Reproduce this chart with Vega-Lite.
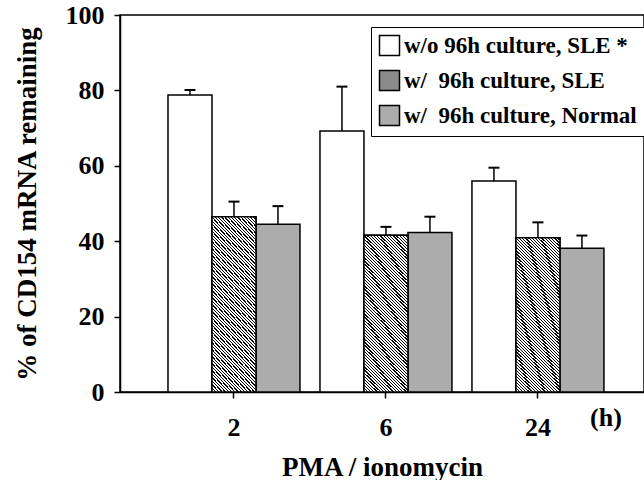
{
  "$schema": "https://vega.github.io/schema/vega-lite/v6.json",
  "width": 524,
  "height": 377,
  "autosize": "none",
  "padding": {"left": 120, "top": 15, "right": 0, "bottom": 88},
  "background": "white",
  "config": {
    "view": {"stroke": "black", "strokeWidth": 1.5},
    "font": "Liberation Serif",
    "axis": {
      "domainColor": "black", "domainWidth": 1.5, "tickColor": "black", "tickWidth": 1.5, "tickSize": 6,
      "grid": false, "labelFont": "Liberation Serif", "labelFontWeight": "bold", "labelColor": "black",
      "titleFont": "Liberation Serif", "titleFontWeight": "bold", "titleColor": "black"
    },
    "legend": {"strokeColor": "black"}
  },
  "datasets": {
    "bars": [
      {"time": "2", "series": "w/o 96h culture, SLE *", "value": 78.8, "upper": 80.1},
      {"time": "2", "series": "w/\u00a0 96h culture, SLE", "value": 46.5, "upper": 50.5},
      {"time": "2", "series": "w/\u00a0 96h culture, Normal", "value": 44.5, "upper": 49.3},
      {"time": "6", "series": "w/o 96h culture, SLE *", "value": 69.2, "upper": 81.0},
      {"time": "6", "series": "w/\u00a0 96h culture, SLE", "value": 41.6, "upper": 43.8},
      {"time": "6", "series": "w/\u00a0 96h culture, Normal", "value": 42.3, "upper": 46.5},
      {"time": "24", "series": "w/o 96h culture, SLE *", "value": 56.0, "upper": 59.5},
      {"time": "24", "series": "w/\u00a0 96h culture, SLE", "value": 40.9, "upper": 45.0},
      {"time": "24", "series": "w/\u00a0 96h culture, Normal", "value": 38.1, "upper": 41.5}
    ]
  },
  "layer": [
    {
      "data": {"name": "bars"},
      "mark": {"type": "bar", "stroke": "black", "strokeWidth": 1.5},
      "encoding": {
        "x": {
          "field": "time", "type": "nominal",
          "scale": {"domain": ["2", "6", "24"], "paddingInner": 0.1316, "paddingOuter": 0.2897, "align": 0.545},
          "axis": {"title": "PMA / ionomycin", "labelAngle": 0, "labelFontSize": 26, "labelPadding": 16, "titleFontSize": 27, "titlePadding": 14}
        },
        "xOffset": {
          "field": "series", "type": "nominal",
          "scale": {"domain": ["w/o 96h culture, SLE *", "w/\u00a0 96h culture, SLE", "w/\u00a0 96h culture, Normal"], "paddingInner": 0, "paddingOuter": 0}
        },
        "y": {
          "field": "value", "type": "quantitative",
          "scale": {"domain": [0, 100]},
          "axis": {
            "title": "% of CD154 mRNA remaining",
            "values": [0, 10, 20, 30, 40, 50, 60, 70, 80, 90, 100],
            "labelExpr": "datum.value % 20 === 0 ? datum.label : ''",
            "labelFontSize": 26, "labelPadding": 10, "titleFontSize": 27, "titlePadding": 24
          }
        },
        "fill": {
          "field": "series", "type": "nominal",
          "scale": {
            "domain": ["w/o 96h culture, SLE *", "w/\u00a0 96h culture, SLE", "w/\u00a0 96h culture, Normal"],
            "range": ["#ffffff", "#8a8a8a", "#acacac"]
          },
          "legend": {
            "title": null, "orient": "none", "legendX": 251, "legendY": 12, "direction": "vertical",
            "fillColor": "white", "padding": 7,
            "symbolType": "square", "symbolSize": 400, "symbolStrokeColor": "black", "symbolOpacity": 1,
            "labelFont": "Liberation Serif", "labelFontWeight": "bold", "labelFontSize": 23, "labelColor": "black",
            "labelOffset": 3, "labelLimit": 0, "rowPadding": 8
          }
        }
      }
    },
    {
      "data": {"name": "bars"},
      "transform": [{"filter": "datum.series === 'w/\u00a0 96h culture, SLE'"}],
      "mark": {"type": "bar", "stroke": "black", "strokeWidth": 1.5,
        "fill": {"gradient": "linear", "x1": 0, "y1": 1, "x2": 0.3216, "y2": -0.1842, "stops": [
{"offset":0,"color":"#000"},{"offset":0.00625,"color":"#000"},{"offset":0.00625,"color":"#fff"},{"offset":0.01563,"color":"#fff"},
{"offset":0.01563,"color":"#000"},{"offset":0.02188,"color":"#000"},{"offset":0.02188,"color":"#fff"},{"offset":0.03125,"color":"#fff"},
{"offset":0.03125,"color":"#000"},{"offset":0.0375,"color":"#000"},{"offset":0.0375,"color":"#fff"},{"offset":0.04688,"color":"#fff"},
{"offset":0.04688,"color":"#000"},{"offset":0.05313,"color":"#000"},{"offset":0.05313,"color":"#fff"},{"offset":0.0625,"color":"#fff"},
{"offset":0.0625,"color":"#000"},{"offset":0.06875,"color":"#000"},{"offset":0.06875,"color":"#fff"},{"offset":0.07813,"color":"#fff"},
{"offset":0.07813,"color":"#000"},{"offset":0.08438,"color":"#000"},{"offset":0.08438,"color":"#fff"},{"offset":0.09375,"color":"#fff"},
{"offset":0.09375,"color":"#000"},{"offset":0.1,"color":"#000"},{"offset":0.1,"color":"#fff"},{"offset":0.10938,"color":"#fff"},
{"offset":0.10938,"color":"#000"},{"offset":0.11563,"color":"#000"},{"offset":0.11563,"color":"#fff"},{"offset":0.125,"color":"#fff"},
{"offset":0.125,"color":"#000"},{"offset":0.13125,"color":"#000"},{"offset":0.13125,"color":"#fff"},{"offset":0.14063,"color":"#fff"},
{"offset":0.14063,"color":"#000"},{"offset":0.14688,"color":"#000"},{"offset":0.14688,"color":"#fff"},{"offset":0.15625,"color":"#fff"},
{"offset":0.15625,"color":"#000"},{"offset":0.1625,"color":"#000"},{"offset":0.1625,"color":"#fff"},{"offset":0.17188,"color":"#fff"},
{"offset":0.17188,"color":"#000"},{"offset":0.17813,"color":"#000"},{"offset":0.17813,"color":"#fff"},{"offset":0.1875,"color":"#fff"},
{"offset":0.1875,"color":"#000"},{"offset":0.19375,"color":"#000"},{"offset":0.19375,"color":"#fff"},{"offset":0.20313,"color":"#fff"},
{"offset":0.20313,"color":"#000"},{"offset":0.20938,"color":"#000"},{"offset":0.20938,"color":"#fff"},{"offset":0.21875,"color":"#fff"},
{"offset":0.21875,"color":"#000"},{"offset":0.225,"color":"#000"},{"offset":0.225,"color":"#fff"},{"offset":0.23438,"color":"#fff"},
{"offset":0.23438,"color":"#000"},{"offset":0.24063,"color":"#000"},{"offset":0.24063,"color":"#fff"},{"offset":0.25,"color":"#fff"},
{"offset":0.25,"color":"#000"},{"offset":0.25625,"color":"#000"},{"offset":0.25625,"color":"#fff"},{"offset":0.26563,"color":"#fff"},
{"offset":0.26563,"color":"#000"},{"offset":0.27188,"color":"#000"},{"offset":0.27188,"color":"#fff"},{"offset":0.28125,"color":"#fff"},
{"offset":0.28125,"color":"#000"},{"offset":0.2875,"color":"#000"},{"offset":0.2875,"color":"#fff"},{"offset":0.29688,"color":"#fff"},
{"offset":0.29688,"color":"#000"},{"offset":0.30313,"color":"#000"},{"offset":0.30313,"color":"#fff"},{"offset":0.3125,"color":"#fff"},
{"offset":0.3125,"color":"#000"},{"offset":0.31875,"color":"#000"},{"offset":0.31875,"color":"#fff"},{"offset":0.32813,"color":"#fff"},
{"offset":0.32813,"color":"#000"},{"offset":0.33438,"color":"#000"},{"offset":0.33438,"color":"#fff"},{"offset":0.34375,"color":"#fff"},
{"offset":0.34375,"color":"#000"},{"offset":0.35,"color":"#000"},{"offset":0.35,"color":"#fff"},{"offset":0.35938,"color":"#fff"},
{"offset":0.35938,"color":"#000"},{"offset":0.36563,"color":"#000"},{"offset":0.36563,"color":"#fff"},{"offset":0.375,"color":"#fff"},
{"offset":0.375,"color":"#000"},{"offset":0.38125,"color":"#000"},{"offset":0.38125,"color":"#fff"},{"offset":0.39063,"color":"#fff"},
{"offset":0.39063,"color":"#000"},{"offset":0.39688,"color":"#000"},{"offset":0.39688,"color":"#fff"},{"offset":0.40625,"color":"#fff"},
{"offset":0.40625,"color":"#000"},{"offset":0.4125,"color":"#000"},{"offset":0.4125,"color":"#fff"},{"offset":0.42188,"color":"#fff"},
{"offset":0.42188,"color":"#000"},{"offset":0.42813,"color":"#000"},{"offset":0.42813,"color":"#fff"},{"offset":0.4375,"color":"#fff"},
{"offset":0.4375,"color":"#000"},{"offset":0.44375,"color":"#000"},{"offset":0.44375,"color":"#fff"},{"offset":0.45313,"color":"#fff"},
{"offset":0.45313,"color":"#000"},{"offset":0.45938,"color":"#000"},{"offset":0.45938,"color":"#fff"},{"offset":0.46875,"color":"#fff"},
{"offset":0.46875,"color":"#000"},{"offset":0.475,"color":"#000"},{"offset":0.475,"color":"#fff"},{"offset":0.48438,"color":"#fff"},
{"offset":0.48438,"color":"#000"},{"offset":0.49063,"color":"#000"},{"offset":0.49063,"color":"#fff"},{"offset":0.5,"color":"#fff"},
{"offset":0.5,"color":"#000"},{"offset":0.50625,"color":"#000"},{"offset":0.50625,"color":"#fff"},{"offset":0.51563,"color":"#fff"},
{"offset":0.51563,"color":"#000"},{"offset":0.52188,"color":"#000"},{"offset":0.52188,"color":"#fff"},{"offset":0.53125,"color":"#fff"},
{"offset":0.53125,"color":"#000"},{"offset":0.5375,"color":"#000"},{"offset":0.5375,"color":"#fff"},{"offset":0.54688,"color":"#fff"},
{"offset":0.54688,"color":"#000"},{"offset":0.55313,"color":"#000"},{"offset":0.55313,"color":"#fff"},{"offset":0.5625,"color":"#fff"},
{"offset":0.5625,"color":"#000"},{"offset":0.56875,"color":"#000"},{"offset":0.56875,"color":"#fff"},{"offset":0.57813,"color":"#fff"},
{"offset":0.57813,"color":"#000"},{"offset":0.58438,"color":"#000"},{"offset":0.58438,"color":"#fff"},{"offset":0.59375,"color":"#fff"},
{"offset":0.59375,"color":"#000"},{"offset":0.6,"color":"#000"},{"offset":0.6,"color":"#fff"},{"offset":0.60938,"color":"#fff"},
{"offset":0.60938,"color":"#000"},{"offset":0.61563,"color":"#000"},{"offset":0.61563,"color":"#fff"},{"offset":0.625,"color":"#fff"},
{"offset":0.625,"color":"#000"},{"offset":0.63125,"color":"#000"},{"offset":0.63125,"color":"#fff"},{"offset":0.64063,"color":"#fff"},
{"offset":0.64063,"color":"#000"},{"offset":0.64688,"color":"#000"},{"offset":0.64688,"color":"#fff"},{"offset":0.65625,"color":"#fff"},
{"offset":0.65625,"color":"#000"},{"offset":0.6625,"color":"#000"},{"offset":0.6625,"color":"#fff"},{"offset":0.67188,"color":"#fff"},
{"offset":0.67188,"color":"#000"},{"offset":0.67813,"color":"#000"},{"offset":0.67813,"color":"#fff"},{"offset":0.6875,"color":"#fff"},
{"offset":0.6875,"color":"#000"},{"offset":0.69375,"color":"#000"},{"offset":0.69375,"color":"#fff"},{"offset":0.70313,"color":"#fff"},
{"offset":0.70313,"color":"#000"},{"offset":0.70938,"color":"#000"},{"offset":0.70938,"color":"#fff"},{"offset":0.71875,"color":"#fff"},
{"offset":0.71875,"color":"#000"},{"offset":0.725,"color":"#000"},{"offset":0.725,"color":"#fff"},{"offset":0.73438,"color":"#fff"},
{"offset":0.73438,"color":"#000"},{"offset":0.74063,"color":"#000"},{"offset":0.74063,"color":"#fff"},{"offset":0.75,"color":"#fff"},
{"offset":0.75,"color":"#000"},{"offset":0.75625,"color":"#000"},{"offset":0.75625,"color":"#fff"},{"offset":0.76563,"color":"#fff"},
{"offset":0.76563,"color":"#000"},{"offset":0.77188,"color":"#000"},{"offset":0.77188,"color":"#fff"},{"offset":0.78125,"color":"#fff"},
{"offset":0.78125,"color":"#000"},{"offset":0.7875,"color":"#000"},{"offset":0.7875,"color":"#fff"},{"offset":0.79688,"color":"#fff"},
{"offset":0.79688,"color":"#000"},{"offset":0.80313,"color":"#000"},{"offset":0.80313,"color":"#fff"},{"offset":0.8125,"color":"#fff"},
{"offset":0.8125,"color":"#000"},{"offset":0.81875,"color":"#000"},{"offset":0.81875,"color":"#fff"},{"offset":0.82813,"color":"#fff"},
{"offset":0.82813,"color":"#000"},{"offset":0.83438,"color":"#000"},{"offset":0.83438,"color":"#fff"},{"offset":0.84375,"color":"#fff"},
{"offset":0.84375,"color":"#000"},{"offset":0.85,"color":"#000"},{"offset":0.85,"color":"#fff"},{"offset":0.85938,"color":"#fff"},
{"offset":0.85938,"color":"#000"},{"offset":0.86563,"color":"#000"},{"offset":0.86563,"color":"#fff"},{"offset":0.875,"color":"#fff"},
{"offset":0.875,"color":"#000"},{"offset":0.88125,"color":"#000"},{"offset":0.88125,"color":"#fff"},{"offset":0.89063,"color":"#fff"},
{"offset":0.89063,"color":"#000"},{"offset":0.89688,"color":"#000"},{"offset":0.89688,"color":"#fff"},{"offset":0.90625,"color":"#fff"},
{"offset":0.90625,"color":"#000"},{"offset":0.9125,"color":"#000"},{"offset":0.9125,"color":"#fff"},{"offset":0.92188,"color":"#fff"},
{"offset":0.92188,"color":"#000"},{"offset":0.92813,"color":"#000"},{"offset":0.92813,"color":"#fff"},{"offset":0.9375,"color":"#fff"},
{"offset":0.9375,"color":"#000"},{"offset":0.94375,"color":"#000"},{"offset":0.94375,"color":"#fff"},{"offset":0.95313,"color":"#fff"},
{"offset":0.95313,"color":"#000"},{"offset":0.95938,"color":"#000"},{"offset":0.95938,"color":"#fff"},{"offset":0.96875,"color":"#fff"},
{"offset":0.96875,"color":"#000"},{"offset":0.975,"color":"#000"},{"offset":0.975,"color":"#fff"},{"offset":0.98438,"color":"#fff"},
{"offset":0.98438,"color":"#000"},{"offset":0.99063,"color":"#000"},{"offset":0.99063,"color":"#fff"},{"offset":1,"color":"#fff"}
        ]}
      },
      "encoding": {
        "x": {"field": "time", "type": "nominal"},
        "xOffset": {"field": "series", "type": "nominal"},
        "y": {"field": "value", "type": "quantitative"}
      }
    },
    {
      "data": {"name": "bars"},
      "mark": {"type": "rule", "color": "black", "strokeWidth": 1.5},
      "encoding": {
        "x": {"field": "time", "type": "nominal"},
        "xOffset": {"field": "series", "type": "nominal"},
        "y": {"field": "value", "type": "quantitative"},
        "y2": {"field": "upper"}
      }
    },
    {
      "data": {"name": "bars"},
      "mark": {"type": "tick", "orient": "horizontal", "color": "black", "size": 11, "thickness": 2, "opacity": 1},
      "encoding": {
        "x": {"field": "time", "type": "nominal"},
        "xOffset": {"field": "series", "type": "nominal"},
        "y": {"field": "upper", "type": "quantitative"}
      }
    },
    {
      "data": {"values": [{"note": "(h)"}]},
      "mark": {"type": "text", "dx": 68, "font": "Liberation Serif", "fontSize": 26, "fontWeight": "bold", "baseline": "middle", "color": "black"},
      "encoding": {
        "x": {"datum": "24", "type": "nominal"},
        "y": {"datum": -7, "type": "quantitative"},
        "text": {"field": "note"}
      }
    }
  ]
}
